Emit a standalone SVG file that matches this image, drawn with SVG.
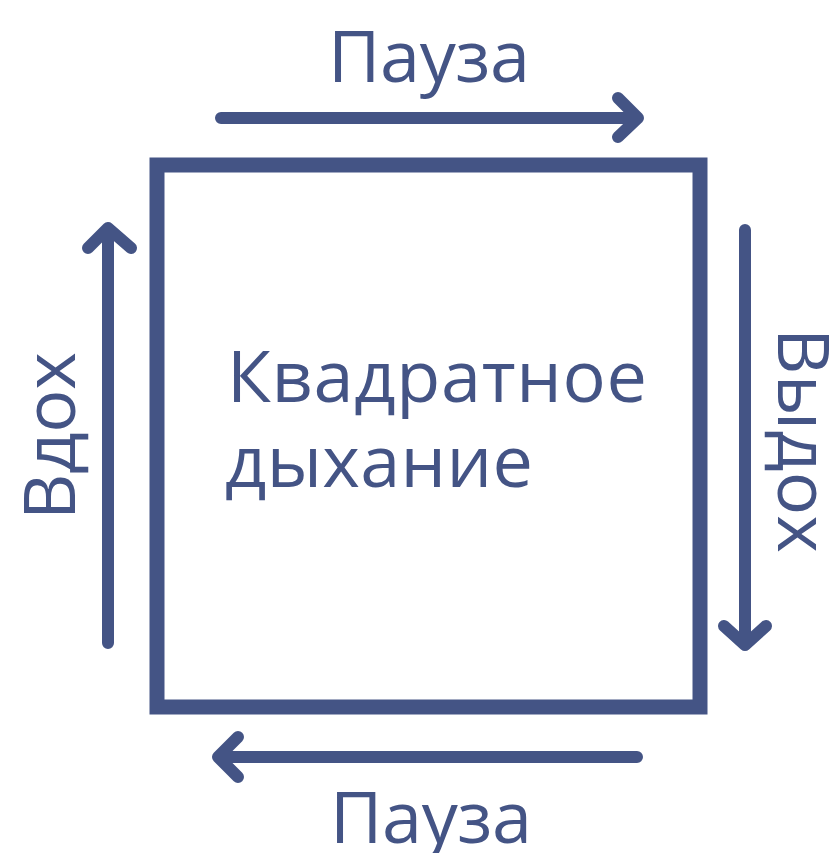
<svg xmlns="http://www.w3.org/2000/svg" width="837" height="853" viewBox="0 0 837 853">
<style>
.t{font-family:"Open Sans","Noto Sans","Liberation Sans",sans-serif;font-weight:370;font-size:72px;fill:#445485}
.ln{fill:none;stroke:#445485;stroke-width:12;stroke-linecap:round;stroke-linejoin:round}
</style>
<rect width="837" height="853" fill="#ffffff"/>
<g id="square">
<rect x="157" y="165" width="543" height="542" fill="none" stroke="#445485" stroke-width="15"/>
<text class="t" x="227" y="402" textLength="420">Квадратное</text>
<text class="t" x="225" y="487" textLength="308">дыхание</text>
</g>
<g id="connectors">
<path class="ln" d="M221 118H638M618 98L638 118L618 137"/>
<path class="ln" d="M745 230V644M724 626L745 645L766 626"/>
<path class="ln" d="M637 757H220M238 737L218 757L238 777"/>
<path class="ln" d="M108 643V229M88 248L108 228L131 248"/>
</g>
<g id="label-top"><text class="t" x="328" y="82" textLength="202">Пауза</text></g>
<g id="label-bottom"><text class="t" x="330" y="843" textLength="202">Пауза</text></g>
<g id="label-left"><text class="t" x="75" y="520" textLength="168" transform="rotate(-90 75 520)">Вдох</text></g>
<g id="label-right"><text class="t" x="778" y="328" textLength="225" transform="rotate(90 778 328)">Выдох</text></g>
</svg>
